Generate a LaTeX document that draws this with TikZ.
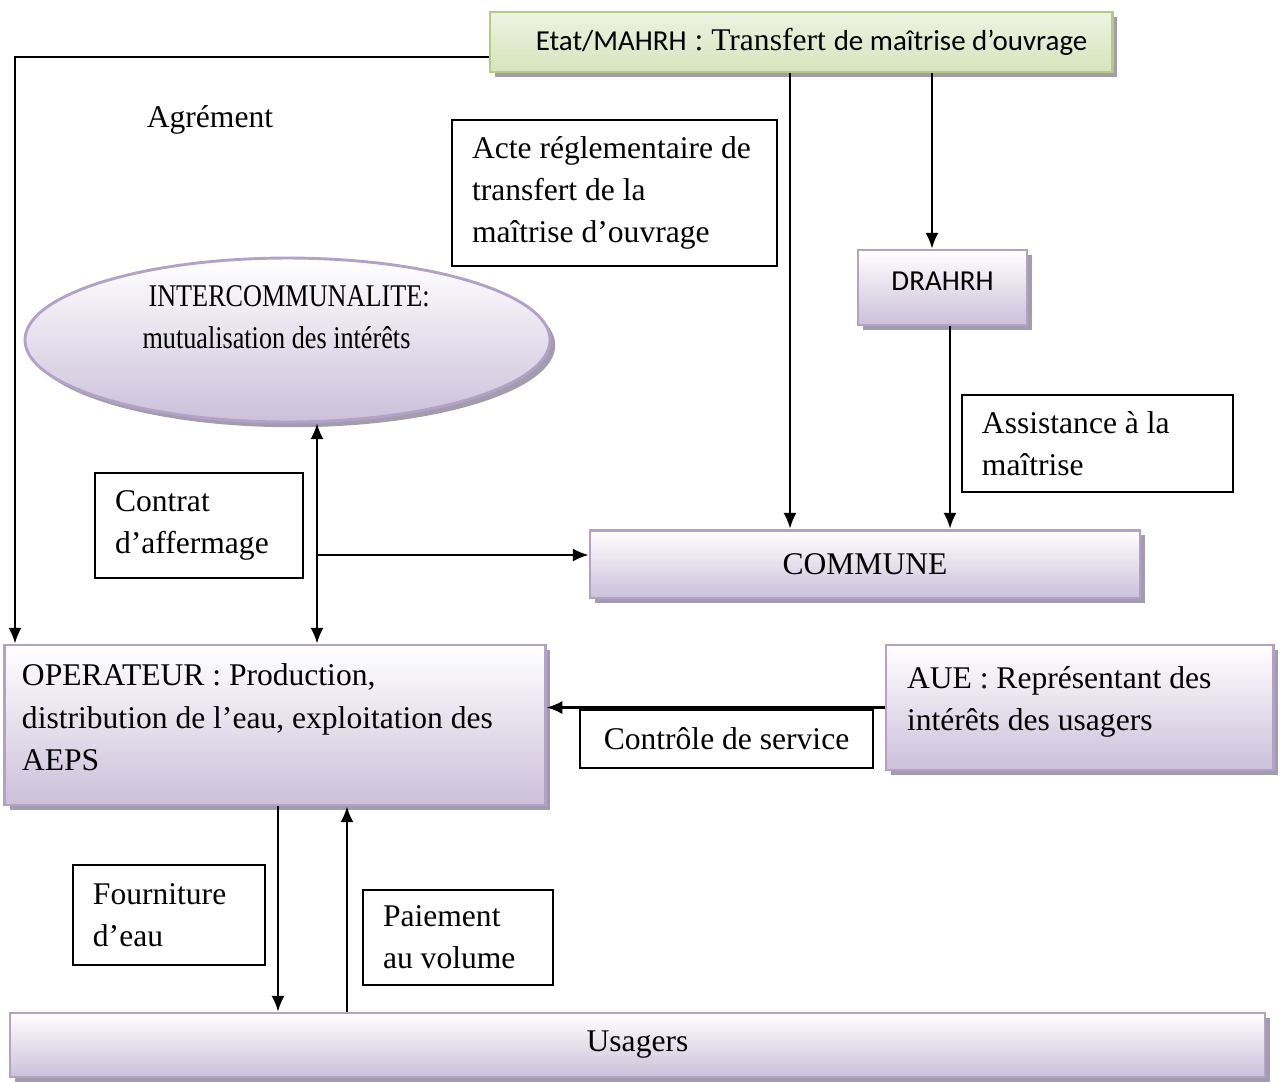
\documentclass[tikz,border=0pt]{standalone}
\usepackage{fontspec}
\setmainfont{Liberation Serif}
\newfontfamily\calib{Carlito}
\usetikzlibrary{shapes.geometric,shadows,arrows.meta}

\definecolor{lav}{RGB}{204,192,218}
\definecolor{lavline}{RGB}{179,162,199}
\definecolor{lavshadow}{RGB}{163,156,173}
\definecolor{grn}{RGB}{215,228,189}
\definecolor{grnline}{RGB}{180,204,130}

\newcommand{\calsize}{\fontsize{11}{16}\selectfont}

\tikzset{
  pbox/.style={draw=lavline, line width=1.1pt, top color=white, bottom color=lav,
    drop shadow={shadow xshift=2pt, shadow yshift=-2pt, fill=lavshadow, opacity=1},
    align=flush left, inner xsep=6.5pt},
  tbox/.style={draw, line width=0.6pt, fill=white, align=flush left, inner xsep=7.6pt},
  arr/.style={line width=0.8pt, -{Latex[length=6pt,width=5pt]}},
  darr/.style={line width=0.8pt, {Latex[length=6pt,width=5pt]}-{Latex[length=6pt,width=5pt]}},
}

\begin{document}
\begin{tikzpicture}[x=0.38pt,y=0.38pt,yscale=-1,xscale=1,
  every node/.style={font=\fontsize{12}{16}\selectfont}]
\useasboundingbox (0,0) rectangle (1284,1081);

% Boxes
\node[pbox, draw=grnline, top color=grn!45, bottom color=grn, minimum width=236.4pt, minimum height=22.8pt, align=center] (etat) at (801,42) {\hspace*{8pt}{\calib\calsize Etat/MAHRH} : Transfert {\calib\calsize de maîtrise d’ouvrage}};
\node[tbox, text width=108.3pt, minimum height=55.5pt] (acte) at (614.5,193) {Acte réglementaire de\\ transfert de la\\ maîtrise d’ouvrage};
\node[pbox, minimum width=64.2pt, minimum height=28.5pt, align=center] (drahrh) at (942.5,287.5) {\calib\calsize DRAHRH\\[-11pt]\mbox{}};
\node[tbox, text width=87.8pt, minimum height=36.9pt] (assist) at (1097.5,443.5) {Assistance à la\\ maîtrise};
\node[pbox, ellipse, minimum width=199.5pt, minimum height=62.3pt] (inter) at (287.5,340) {};
\node[pbox, text width=192.3pt, minimum height=60.8pt] (op) at (275,725) {OPERATEUR : Production,\\ distribution de l’eau, exploitation des\\ AEPS\\[-10pt]\mbox{}};
\node[tbox, text width=63.8pt, minimum height=39.9pt] (contrat) at (199,525.5) {Contrat\\ d’affermage};
\node[pbox, minimum width=209pt, minimum height=25.8pt, align=center] (commune) at (865,564) {COMMUNE};
\node[pbox, text width=131.1pt, inner xsep=8pt, minimum height=47.5pt] (aue) at (1079.5,707.5) {AUE : Représentant des\\ intérêts des usagers\\[-9pt]\mbox{}};
\node[tbox, minimum width=111.3pt, minimum height=22pt, align=center] (ctrl) at (726.5,739) {Contrôle de service};
\node[tbox, text width=57.8pt, minimum height=38pt] (fourn) at (169,915) {Fourniture\\ d’eau};
\node[tbox, text width=57pt, minimum height=36.1pt] (paie) at (458,937.5) {Paiement\\ au volume};
\node[pbox, minimum width=476.9pt, minimum height=24.3pt, align=center] (usa) at (637.5,1045) {Usagers};

% Text Node
\node[anchor=west, inner sep=0pt] (intertxt) at (142,319) {\begin{tabular}{@{}l@{}}\hspace*{2.3pt}\scalebox{0.83}[1]{INTERCOMMUNALITE:}\\ \scalebox{0.83}[1]{mutualisation des intérêts}\end{tabular}};
\node (agrement) at (210,120) {Agrément};

% Connectors
\coordinate (agr) at (15,57);
\coordinate (fork) at (317,555);
\draw[arr] (etat.west |- agr) -- (agr) -- (agr |- op.north);
\draw[arr] (etat.south -| 790,0) -- (commune.north -| 790,0);
\draw[arr] (etat.south -| 932,0) -- (drahrh.north -| 932,0);
\draw[arr] (drahrh.south -| 950,0) -- (commune.north -| 950,0);
\draw[darr] (inter.south -| fork) -- (op.north -| fork);
\draw[arr] (fork) -- (fork -| commune.west);
\draw[arr] (aue.west) -- (aue.west -| op.east);
\draw[arr] (op.south -| 278,0) -- (usa.north -| 278,0);
\draw[arr] (usa.north -| 347,0) -- (op.south -| 347,0);

\end{tikzpicture}
\end{document}
